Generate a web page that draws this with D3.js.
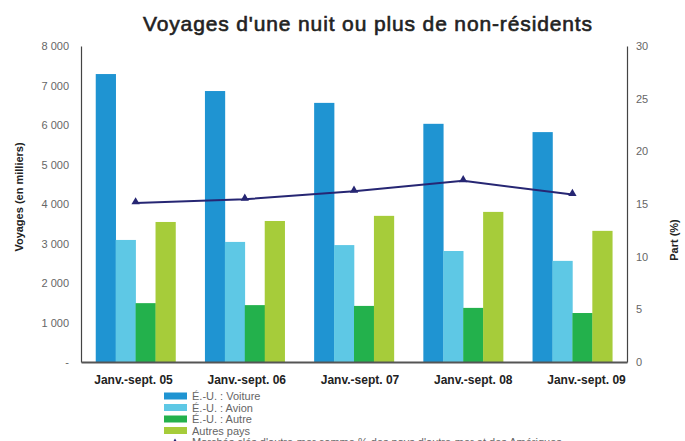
<!DOCTYPE html>
<html><head><meta charset="utf-8">
<script src="https://cdn.jsdelivr.net/npm/d3@7"></script>
<style>body{margin:0;background:#fff}svg{display:block;font-family:"Liberation Sans",Arial,sans-serif}</style>
</head><body><svg id="c" width="685" height="441"></svg>
<script>
const categories = ["Janv.-sept. 05","Janv.-sept. 06","Janv.-sept. 07","Janv.-sept. 08","Janv.-sept. 09"];
const seriesNames = ["É.-U. : Voiture","É.-U. : Avion","É.-U. : Autre","Autres pays"];
const voiture = [7290, 6860, 6560, 6030, 5820];
const avion = [3090, 3040, 2960, 2810, 2560];
const autre = [1490, 1440, 1420, 1370, 1240];
const autresPays = [3545, 3570, 3700, 3800, 3320];
const partPct = [15.1, 15.45, 16.2, 17.2, 15.9];
const lineName = "Marchés clés d'outre-mer comme % des pays d'outre-mer et des Amériques";
const leftTicks = [0,1000,2000,3000,4000,5000,6000,7000,8000];
const rightTicks = [0,5,10,15,20,25,30];
const colors = ["#1f94d2","#5ec8e5","#23b14c","#a6cc3a"];
const lineColor = "#262673";

const svg = d3.select("#c");
const L=81, R=627, T=46, B=362;
const series=[voiture,avion,autre,autresPays];

const x = d3.scaleBand().domain(categories).range([L,R]).paddingInner(0.27).paddingOuter(0.135);
const xs = d3.scaleBand().domain(d3.range(4)).range([0,x.bandwidth()]);
const xl = d3.scalePoint().domain(categories).range([133,586]);
const y = d3.scaleLinear().domain([0,8000]).range([B,T]);
const y2 = d3.scaleLinear().domain([0,30]).range([B,T]);

svg.append("text").attr("x",143).attr("y",31)
  .attr("font-size",21).attr("font-weight","normal").attr("fill","#222")
  .attr("stroke","#222").attr("stroke-width",0.6)
  .attr("textLength",449).attr("lengthAdjust","spacing")
  .text("Voyages d'une nuit ou plus de non-résidents");

// bars
series.forEach((s,i)=>{
  svg.append("g").selectAll("rect").data(s).join("rect")
    .attr("x",(d,j)=>x(categories[j])+xs(i)).attr("width",xs.bandwidth()+0.3)
    .attr("y",d=>y(d)).attr("height",d=>B-y(d)).attr("fill",colors[i]);
});

// axes
const fmt = d=> d===0 ? "-" : d3.format(",")(d).replace(",", " ");
const ax = svg.append("g").attr("transform",`translate(${L},0)`)
  .call(d3.axisLeft(y).tickValues(leftTicks).tickFormat(fmt).tickSize(0).tickPadding(12));
ax.select(".domain").attr("stroke","#444").attr("stroke-width",1.2);
ax.selectAll("text").attr("font-size",11).attr("fill","#666").attr("font-family","Liberation Sans, Arial");

const ax2 = svg.append("g").attr("transform",`translate(${R},0)`)
  .call(d3.axisRight(y2).tickValues(rightTicks).tickSize(0).tickPadding(9));
ax2.select(".domain").attr("stroke","#444").attr("stroke-width",1.2);
ax2.selectAll("text").attr("font-size",11).attr("fill","#666").attr("font-family","Liberation Sans, Arial");

// baseline
svg.append("g").attr("transform",`translate(0,${B})`)
  .call(d3.axisBottom(x).tickSize(0).tickFormat(""))
  .select(".domain").attr("stroke","#555").attr("stroke-width",2);
// category labels
const axb = svg.append("g").attr("transform",`translate(0,${B})`)
  .call(d3.axisBottom(xl).tickSize(0).tickPadding(13));
axb.select(".domain").remove();
axb.selectAll("text").attr("font-size",12).attr("font-weight","bold").attr("fill","#222").attr("font-family","Liberation Sans, Arial");

svg.append("text").attr("transform","translate(23,197) rotate(-90)").attr("text-anchor","middle")
  .attr("font-size",11).attr("font-weight","bold").attr("fill","#222").text("Voyages (en milliers)");
svg.append("text").attr("transform","translate(678,240) rotate(-90)").attr("text-anchor","middle")
  .attr("font-size",11).attr("font-weight","bold").attr("fill","#222").text("Part (%)");

// line
const cx = c=> x(c)+x.bandwidth()/2;
const line = d3.line().x((d,i)=>cx(categories[i])).y(d=>y2(d));
svg.append("path").datum(partPct).attr("d",line).attr("fill","none").attr("stroke",lineColor).attr("stroke-width",2);
const tri = d3.symbol().type(d3.symbolTriangle).size(30);
svg.append("g").selectAll("path").data(partPct).join("path")
  .attr("transform",(d,i)=>`translate(${cx(categories[i])},${y2(d)-1})`).attr("d",tri).attr("fill",lineColor);

// legend
const lg = svg.append("g");
seriesNames.forEach((n,i)=>{
  const yy = 396 + i*11.5;
  lg.append("rect").attr("x",164).attr("y",yy-3.5).attr("width",23).attr("height",7).attr("fill",colors[i]);
  lg.append("text").attr("x",192).attr("y",yy+4).attr("font-size",11).attr("fill","#666").text(n);
});
const ly = 396+4*11.5;
lg.append("path").attr("transform",`translate(175,${ly})`).attr("d",d3.symbol().type(d3.symbolTriangle).size(16)).attr("fill",lineColor);
lg.append("text").attr("x",192).attr("y",ly+4).attr("font-size",11).attr("fill","#666").text(lineName);
</script></body></html>
